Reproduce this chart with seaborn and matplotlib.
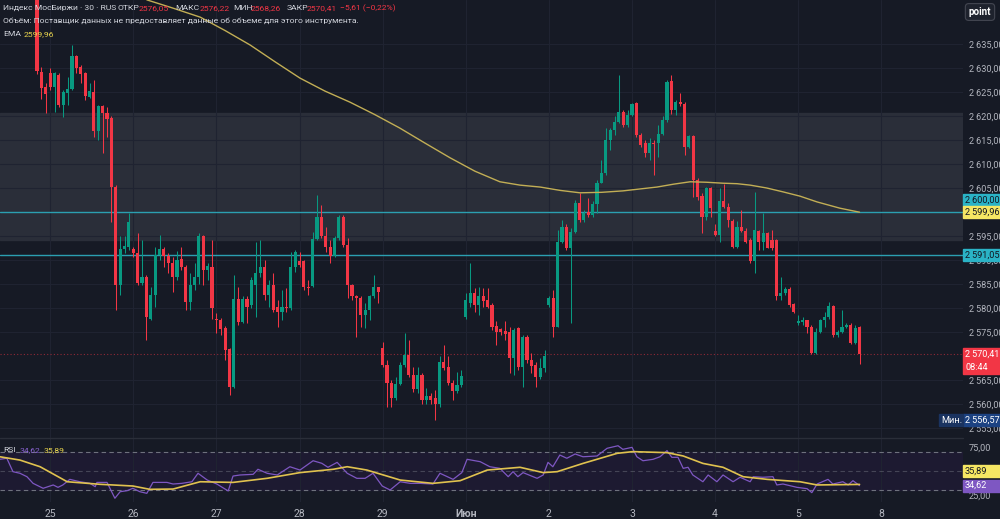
import numpy as np
import pandas as pd
import seaborn as sns
import matplotlib.pyplot as plt
from matplotlib.patches import Rectangle

# ---- data (30 min candles, index 0 = first visible candle) ----
opens = [2645.0, 2629.1, 2626.1, 2628.9, 2626.1, 2628.5, 2622.3, 2624.7, 2625.6, 2632.5,
         2630.3, 2628.9, 2624.0, 2625.1, 2616.9, 2622.1, 2620.7, 2619.5, 2605.3, 2584.8,
         2592.2, 2592.8, 2592.2, 2591.5, 2585.3, 2586.5, 2577.8, 2582.7, 2591.0, 2592.2,
         2590.8, 2589.3, 2586.5, 2590.2, 2588.6, 2581.3, 2584.7, 2586.5, 2594.9, 2588.0,
         2588.6, 2577.8, 2577.4, 2575.8, 2571.4, 2563.6, 2581.8, 2577.0, 2581.8, 2580.6,
         2584.8, 2587.2, 2588.6, 2582.7, 2584.8, 2580.3, 2579.2, 2580.3, 2579.9, 2588.5,
         2589.8, 2589.7, 2584.4, 2584.6, 2594.3, 2598.9, 2594.9, 2592.8, 2590.8, 2594.5,
         2599.0, 2593.1, 2584.8, 2582.4, 2582.0, 2578.5, 2579.6, 2582.4, 2584.3, 2571.6,
         2568.1, 2564.3, 2561.2, 2564.2, 2568.1, 2570.2, 2566.0, 2563.1, 2566.0, 2560.8,
         2561.7, 2561.2, 2560.0, 2568.8, 2567.8, 2564.4, 2562.8, 2564.0, 2578.2, 2581.0,
         2583.1, 2580.6, 2582.4, 2581.7, 2580.6, 2576.3, 2575.6, 2575.3, 2575.1, 2569.5,
         2575.8, 2567.8, 2574.0, 2569.2, 2568.1, 2565.7, 2567.4, 2580.6, 2582.0, 2576.1,
         2593.8, 2596.9, 2592.4, 2595.9, 2601.8, 2598.3, 2600.1, 2599.4, 2601.7, 2606.1,
         2608.2, 2615.0, 2617.0, 2618.8, 2620.9, 2618.1, 2620.2, 2622.8, 2616.0, 2614.4,
         2612.2, 2614.4, 2614.3, 2616.3, 2619.2, 2627.2, 2621.2, 2623.0, 2622.6, 2613.5,
         2615.8, 2606.7, 2603.3, 2599.0, 2604.9, 2596.1, 2595.2, 2602.2, 2601.1, 2598.2,
         2592.8, 2596.9, 2596.1, 2594.2, 2589.7, 2596.1, 2593.8, 2595.7, 2594.2, 2594.2,
         2582.5, 2583.2, 2583.9, 2580.8, 2576.8, 2577.0, 2577.4, 2576.1, 2570.7, 2575.1,
         2577.5, 2578.1, 2580.4, 2574.4, 2575.1, 2576.1, 2576.5, 2572.8, 2576.05]
closes = [2629.4, 2625.9, 2624.6, 2626.1, 2628.9, 2622.3, 2625.1, 2625.6, 2632.4, 2630.1,
          2628.7, 2624.2, 2625.3, 2616.9, 2622.1, 2620.6, 2619.4, 2605.3, 2584.8, 2592.2,
          2592.9, 2598.0, 2591.4, 2585.3, 2586.5, 2578.1, 2582.7, 2591.0, 2592.2, 2590.8,
          2589.3, 2586.5, 2590.0, 2588.6, 2581.3, 2584.7, 2586.5, 2595.0, 2588.0, 2588.7,
          2579.9, 2577.4, 2575.6, 2571.3, 2563.6, 2581.8, 2577.0, 2581.8, 2580.3, 2585.8,
          2587.2, 2588.5, 2582.7, 2584.8, 2579.6, 2579.2, 2580.3, 2579.9, 2588.5, 2591.7,
          2589.0, 2584.3, 2584.1, 2594.3, 2598.9, 2594.9, 2592.8, 2590.8, 2594.5, 2599.0,
          2593.1, 2584.8, 2582.4, 2582.0, 2578.5, 2579.6, 2582.4, 2584.3, 2583.4, 2568.1,
          2564.3, 2561.2, 2564.2, 2568.1, 2570.2, 2566.0, 2563.1, 2566.0, 2560.8, 2561.7,
          2560.8, 2560.0, 2568.8, 2567.4, 2564.4, 2562.8, 2564.0, 2565.8, 2581.7, 2583.1,
          2580.6, 2582.5, 2581.5, 2580.3, 2576.1, 2575.1, 2575.1, 2574.6, 2569.5, 2575.4,
          2567.8, 2574.0, 2569.2, 2567.9, 2565.7, 2567.4, 2570.0, 2582.0, 2576.1, 2593.8,
          2596.9, 2592.4, 2595.9, 2601.8, 2598.3, 2599.7, 2599.4, 2601.7, 2606.1, 2608.2,
          2615.0, 2617.1, 2618.8, 2620.9, 2618.1, 2620.2, 2622.6, 2616.0, 2614.0, 2612.2,
          2614.4, 2614.2, 2616.3, 2619.2, 2627.0, 2621.2, 2623.0, 2622.6, 2613.5, 2615.8,
          2606.7, 2603.2, 2599.0, 2604.9, 2600.8, 2595.2, 2602.2, 2601.1, 2598.3, 2592.8,
          2596.9, 2596.1, 2593.8, 2589.7, 2596.2, 2593.8, 2595.7, 2592.6, 2592.4, 2582.5,
          2583.2, 2583.9, 2580.6, 2579.2, 2577.2, 2577.4, 2576.0, 2570.7, 2575.1, 2577.5,
          2578.1, 2580.4, 2574.4, 2575.1, 2576.1, 2576.5, 2572.8, 2575.8, 2570.41]
highs = [2646.0, 2630.3, 2626.8, 2629.9, 2629.2, 2628.9, 2625.4, 2628.2, 2634.8, 2632.7,
         2630.6, 2629.2, 2626.8, 2627.5, 2622.3, 2622.3, 2621.9, 2619.9, 2605.6, 2594.9,
         2594.9, 2599.7, 2592.8, 2595.6, 2594.2, 2586.9, 2584.4, 2592.8, 2595.2, 2592.8,
         2591.4, 2590.7, 2591.8, 2592.8, 2589.0, 2587.2, 2589.3, 2595.6, 2595.2, 2589.3,
         2594.2, 2578.9, 2577.9, 2576.2, 2571.6, 2586.9, 2584.4, 2582.4, 2582.4, 2586.5,
         2593.8, 2594.2, 2590.0, 2585.8, 2587.2, 2581.7, 2583.8, 2584.1, 2591.7, 2592.1,
         2591.7, 2590.0, 2585.8, 2595.9, 2603.5, 2601.5, 2596.9, 2594.2, 2594.9, 2599.4,
         2599.4, 2594.5, 2585.1, 2582.7, 2582.4, 2581.0, 2582.7, 2586.9, 2584.4, 2573.0,
         2569.2, 2565.0, 2565.7, 2568.8, 2574.7, 2573.4, 2567.8, 2567.8, 2566.4, 2563.3,
         2562.2, 2562.9, 2569.9, 2572.3, 2569.9, 2565.0, 2566.7, 2567.0, 2583.1, 2589.3,
         2584.1, 2584.4, 2584.1, 2584.1, 2581.0, 2577.2, 2575.8, 2577.2, 2576.1, 2575.8,
         2576.1, 2574.4, 2574.4, 2570.6, 2568.8, 2569.5, 2571.3, 2582.5, 2583.8, 2596.3,
         2598.3, 2597.6, 2596.6, 2602.5, 2603.9, 2600.4, 2602.9, 2602.2, 2606.7, 2610.8,
         2617.4, 2617.4, 2619.9, 2628.5, 2621.2, 2621.2, 2622.8, 2623.0, 2616.4, 2615.0,
         2615.4, 2615.0, 2618.1, 2619.9, 2627.5, 2628.5, 2623.3, 2624.7, 2623.0, 2616.0,
         2616.0, 2607.0, 2603.9, 2605.3, 2605.3, 2597.6, 2604.9, 2605.9, 2601.8, 2598.5,
         2598.2, 2600.4, 2596.6, 2594.5, 2604.2, 2596.2, 2599.7, 2595.9, 2596.2, 2594.3,
         2586.5, 2584.4, 2584.4, 2581.0, 2578.5, 2578.2, 2577.6, 2576.5, 2575.8, 2577.8,
         2579.2, 2581.3, 2580.6, 2575.4, 2579.6, 2576.8, 2576.8, 2576.5, 2576.22]
lows = [2628.8, 2623.5, 2620.6, 2625.4, 2620.9, 2621.9, 2619.7, 2622.3, 2625.4, 2628.9,
        2626.8, 2623.3, 2623.7, 2615.7, 2615.0, 2612.2, 2615.7, 2598.0, 2579.6, 2582.7,
        2591.4, 2592.1, 2590.7, 2584.8, 2584.8, 2573.3, 2577.5, 2580.3, 2590.0, 2588.6,
        2587.2, 2583.4, 2585.8, 2587.9, 2579.6, 2579.6, 2583.7, 2585.1, 2584.8, 2585.8,
        2577.8, 2574.7, 2574.4, 2569.2, 2561.9, 2563.3, 2576.5, 2576.8, 2576.8, 2579.9,
        2578.2, 2586.5, 2581.7, 2580.3, 2579.2, 2576.1, 2577.5, 2579.2, 2579.6, 2587.6,
        2588.6, 2583.8, 2582.7, 2584.4, 2594.2, 2594.5, 2591.7, 2589.3, 2590.7, 2594.2,
        2592.8, 2582.0, 2581.7, 2574.0, 2576.1, 2575.8, 2577.5, 2582.0, 2581.0, 2567.8,
        2559.4, 2559.4, 2560.8, 2564.0, 2567.8, 2565.7, 2562.6, 2562.2, 2560.1, 2560.0,
        2560.1, 2556.57, 2559.4, 2567.1, 2564.0, 2560.8, 2562.2, 2563.6, 2577.8, 2580.3,
        2579.2, 2578.5, 2580.3, 2579.9, 2575.4, 2572.3, 2574.4, 2573.3, 2566.4, 2566.0,
        2567.1, 2563.6, 2568.5, 2566.4, 2563.6, 2565.3, 2566.7, 2580.3, 2574.0, 2576.1,
        2593.5, 2592.1, 2576.8, 2595.6, 2598.0, 2598.0, 2599.0, 2599.0, 2599.7, 2606.0,
        2607.7, 2612.9, 2616.0, 2618.5, 2617.8, 2617.8, 2619.9, 2615.7, 2613.6, 2611.5,
        2610.8, 2607.7, 2611.5, 2616.0, 2618.8, 2620.5, 2620.2, 2622.0, 2611.9, 2613.3,
        2603.2, 2602.5, 2595.6, 2598.3, 2599.0, 2594.9, 2593.8, 2600.8, 2596.9, 2592.4,
        2592.4, 2595.9, 2593.5, 2589.3, 2587.2, 2592.1, 2592.1, 2592.4, 2592.1, 2581.7,
        2581.7, 2582.7, 2580.3, 2578.9, 2576.5, 2576.5, 2574.7, 2570.5, 2570.5, 2574.7,
        2576.1, 2577.8, 2574.0, 2574.0, 2574.7, 2575.8, 2572.6, 2572.6, 2568.26]

# EMA line (candle index, value)
ema_idx = [25.1, 31.0, 37.3, 43.0, 48.7, 54.4, 60.1, 65.8, 71.5, 77.2, 82.9, 88.6, 94.4,
           100.1, 105.8, 110.4, 115.0, 119.6, 124.1, 129.0, 133.9, 137.8, 141.7, 145.5,
           149.3, 153.0, 156.8, 160.0, 163.0, 166.8, 170.5, 174.4, 178.3, 183.5, 188.0]
ema_val = [2644.2, 2642.5, 2640.6, 2637.8, 2634.8, 2631.3, 2627.9, 2625.2, 2622.9, 2620.3,
           2617.5, 2614.4, 2611.3, 2608.5, 2606.3, 2605.6, 2605.2, 2604.5, 2604.0, 2604.1,
           2604.4, 2604.8, 2605.2, 2605.8, 2606.3, 2606.2, 2606.0, 2605.9, 2605.6, 2605.0,
           2604.2, 2603.3, 2602.1, 2600.8, 2599.96]

# RSI and its moving average
rsi_idx = [-8.5, -6.9, -5.5, -3.9, -2.3, -0.9, 1.4, 3.7, 4.8, 5.9, 7.5, 9.8, 12.1, 13.3, 13.7,
           16.0, 17.8, 19.0, 20.6, 21.9, 23.5, 25.1, 26.5, 29.7, 31.1, 33.1, 35.4, 36.8, 38.9,
           41.1, 43.7, 44.8, 46.4, 49.4, 50.5, 52.6, 54.9, 57.8, 60.1, 63.1, 65.1, 66.5, 68.6,
           70.9, 73.1, 75.0, 76.8, 78.9, 80.7, 83.0, 85.3, 87.5, 90.5, 92.1, 95.1, 97.1, 98.3,
           101.3, 103.5, 105.8, 107.7, 108.8, 109.9, 111.1, 114.3, 115.7, 116.8, 117.9, 119.5,
           121.1, 123.0, 124.8, 128.0, 130.3, 132.8, 133.9, 136.0, 137.1, 138.5, 140.8, 142.4,
           144.0, 145.1, 146.5, 147.7, 148.8, 149.9, 152.2, 153.4, 155.4, 156.8, 159.1, 160.7,
           163.0, 163.7, 165.9, 168.2, 169.1, 170.5, 173.7, 176.0, 177.1, 178.3, 180.8, 181.9,
           184.2, 185.4, 186.5, 188.0]
rsi_val = [62.3, 63.4, 49.3, 47.6, 44.0, 37.0, 31.8, 35.3, 32.8, 35.3, 41.2, 38.7, 37.0, 33.5,
           38.0, 38.0, 21.3, 28.2, 29.3, 31.8, 28.2, 26.5, 38.0, 38.0, 36.3, 37.0, 38.7, 47.6,
           40.5, 36.3, 29.0, 44.7, 45.8, 46.5, 51.8, 47.6, 45.8, 54.5, 51.0, 60.8, 58.1, 53.9,
           59.1, 47.6, 42.3, 42.3, 47.6, 34.2, 30.0, 38.7, 37.0, 37.0, 36.3, 47.6, 41.2, 48.3,
           62.3, 59.8, 54.5, 52.8, 44.0, 49.3, 44.0, 48.3, 42.3, 45.8, 59.1, 54.5, 66.8, 63.4,
           67.9, 65.0, 65.8, 73.9, 76.6, 72.8, 74.9, 65.0, 60.8, 62.3, 65.0, 71.4, 64.4, 64.4,
           52.8, 53.9, 45.8, 38.7, 45.8, 38.7, 45.8, 38.7, 43.4, 38.7, 44.0, 43.4, 44.0, 35.3,
           36.3, 32.8, 31.4, 27.2, 36.3, 41.2, 36.3, 38.7, 35.3, 39.8, 34.62]
rsi_ma_idx = [-8.5, -3.9, 0.7, 6.9, 14.4, 21.9, 25.8, 31.1, 37.3, 44.8, 52.6, 60.1, 67.7,
              70.9, 75.4, 83.0, 90.5, 96.7, 102.9, 110.4, 115.7, 118.9, 124.8, 132.6, 136.2,
              144.0, 147.7, 152.2, 156.8, 161.4, 166.9, 174.4, 178.3, 188.0]
rsi_ma_val = [65.0, 61.5, 54.5, 38.7, 36.0, 34.2, 30.7, 31.0, 38.7, 38.0, 42.3, 48.3, 51.8,
              54.5, 51.0, 40.5, 37.0, 39.8, 51.0, 53.9, 48.3, 49.3, 58.0, 68.6, 70.4, 69.3,
              65.8, 58.0, 53.9, 44.0, 41.2, 38.7, 35.3, 35.89]

day_ticks = [3, 22, 41, 60, 79, 98, 117, 136, 155, 174, 193]
day_labels = ["25", "26", "27", "28", "29", "Июн", "2", "3", "4", "5", "8"]
price_ticks = [2555, 2560, 2565, 2575, 2580, 2585, 2590, 2595, 2605, 2610, 2615, 2620,
               2625, 2630, 2635]

zone_low, zone_high = 2594.2, 2620.6
level_a, level_b = 2600.00, 2591.05
ema_last = 2599.96
price_min = 2556.57

BG = "#161a25"
GRID = "#1f2331"
TXT = "#b2b5be"
UP, DOWN = "#089981", "#f23645"

sns.set_theme(style="dark", rc={"axes.facecolor": BG, "figure.facecolor": BG,
                                "axes.edgecolor": BG, "text.color": TXT})
plt.rcParams["font.family"] = ["Roboto", "DejaVu Sans"]


def fmt(v):
    return f"{v:,.2f}".replace(",", "\u2009").replace(".", ",")


W, H = 1000, 519
fig = plt.figure(figsize=(W / 100, H / 100), dpi=100)
ax = fig.add_axes([0, 1 - 437 / H, 963 / W, 437 / H])
ax_rsi = fig.add_axes([0, 1 - 502 / H, 963 / W, 65 / H])

df = pd.DataFrame({"open": opens, "high": highs, "low": lows, "close": closes})
df["i"] = np.arange(len(df))
colors = np.where(df["close"] >= df["open"], UP, DOWN)

xlim = (-8.46, 211.65)

# main pane
ax.axhspan(zone_low, zone_high, color="#2a2e39", zorder=0)
ax.vlines(df["i"], df["low"], df["high"], colors=colors, linewidth=0.75, zorder=3)
body = np.maximum((df["close"] - df["open"]).abs(), 0.15)
ax.bar(df["i"], body, bottom=np.minimum(df["open"], df["close"]), width=0.7,
       color=colors, linewidth=0, zorder=4)
sns.lineplot(x=ema_idx, y=ema_val, ax=ax, color="#c2ae55", linewidth=1.0, zorder=5)
ax.axhline(level_a, color="#2b9fb1", linewidth=1.0, zorder=2)
ax.axhline(level_b, color="#2b9fb1", linewidth=1.0, zorder=2)
ax.axhline(closes[-1], color=DOWN, linewidth=0.8, linestyle=(0, (1, 2)), alpha=0.55, zorder=2)

ax.set_xlim(*xlim)
ax.set_ylim(2553.125, 2644.17)
ax.set_xticks(day_ticks)
ax.set_xticklabels([])
ax.set_yticks(price_ticks)
ax.yaxis.tick_right()
ax.set_yticklabels([fmt(v) for v in price_ticks])
ax.tick_params(axis="y", length=0, pad=4, labelsize=6.6, labelcolor=TXT)
ax.tick_params(axis="x", length=0)
ax.grid(True, color=GRID, linewidth=0.8)
ax.set_axisbelow(True)
ax.set_xlabel("")
ax.set_ylabel("")

# rsi pane
ax_rsi.axhspan(30, 70, color="#1d1a31", zorder=0)
for lvl, a in [(70, 0.9), (50, 0.45), (30, 0.9)]:
    ax_rsi.axhline(lvl, color="#787b86", linewidth=0.8, linestyle=(0, (4, 3)), alpha=a, zorder=1)
sns.lineplot(x=rsi_idx, y=rsi_val, ax=ax_rsi, color="#7e57c2", linewidth=0.9, zorder=3)
sns.lineplot(x=rsi_ma_idx, y=rsi_ma_val, ax=ax_rsi, color="#e0c24f", linewidth=1.2, zorder=4)
ax_rsi.set_xlim(*xlim)
ax_rsi.set_ylim(17.37, 85.79)
ax_rsi.set_xticks(day_ticks)
ax_rsi.set_xticklabels(day_labels)
for t in ax_rsi.get_xticklabels():
    if t.get_text() == "Июн":
        t.set_fontweight("bold")
ax_rsi.set_yticks([25, 75])
ax_rsi.yaxis.tick_right()
ax_rsi.set_yticklabels(["25,00", "75,00"])
ax_rsi.tick_params(axis="y", length=0, pad=4, labelsize=6.6, labelcolor=TXT)
ax_rsi.tick_params(axis="x", length=0, pad=5, labelsize=7.5, labelcolor=TXT)
ax_rsi.grid(True, axis="x", color=GRID, linewidth=0.8)
ax_rsi.grid(False, axis="y")
ax_rsi.set_xlabel("")
ax_rsi.set_ylabel("")
for a in (ax, ax_rsi):
    for s in a.spines.values():
        s.set_visible(False)

fig.add_artist(plt.Line2D([0, 963 / W], [1 - 437.5 / H] * 2, color="#2a2e39", linewidth=1))


def px_text(x, y, s, color, size=6.1, **kw):
    fig.text(x / W, 1 - y / H, s, color=color, fontsize=size, va="center", ha="left", **kw)


def tag(axis, value, lines, bg, fg, dy=0, x0=963, x1=1000, h=12):
    yc = axis.transData.transform((0, value))[1] + dy
    n = len(lines)
    fig.add_artist(Rectangle((x0 / W, (yc - h / 2 - (n - 1) * h) / H), (x1 - x0) / W,
                             (h * n) / H, transform=fig.transFigure, color=bg, zorder=10))
    for k, s in enumerate(lines):
        fig.text((x0 + 2) / W, (yc - k * h) / H, s, color=fg, fontsize=6.6,
                 va="center", ha="left", zorder=11)


# header legend
HEAD = "#d1d4dc"
px_text(3, 8, "Индекс МосБиржи · 30 · RUS", HEAD)
px_text(118, 8, "ОТКР", HEAD)
px_text(139, 8, "2576,05", DOWN)
px_text(175, 8, "МАКС", HEAD)
px_text(200, 8, "2576,22", DOWN)
px_text(233, 8, "МИН", HEAD)
px_text(251, 8, "2568,26", DOWN)
px_text(287, 8, "ЗАКР", HEAD)
px_text(307, 8, "2570,41", DOWN)
px_text(340, 8, "\u22125,61 (\u22120,22%)", DOWN)
px_text(3, 21, "Объём: Поставщик данных не предоставляет данные об объеме для этого инструмента.", HEAD)
px_text(3, 34, "EMA", HEAD)
px_text(24, 34, "2599,96", "#e8d44d")
px_text(3, 450, "RSI", HEAD)
px_text(20, 450, "34,62", "#8a63d2")
px_text(44, 450, "35,89", "#e8d44d")

# price tags on the right scale
tag(ax, level_a, [fmt(level_a)], "#2ab3c6", "#131722", dy=12)
tag(ax, ema_last, [fmt(ema_last)], "#f5e663", "#131722")
tag(ax, level_b, [fmt(level_b)], "#2ab3c6", "#131722")
tag(ax, closes[-1], [fmt(closes[-1]), "08:44"], DOWN, "white", h=13)
tag(ax, price_min, [fmt(price_min)], "#1c4282", "white")
tag(ax, price_min, ["Мин."], "#1a3360", "white", x0=939, x1=963)
tag(ax_rsi, rsi_ma_val[-1], ["35,89"], "#f5e663", "#131722", dy=13)
tag(ax_rsi, rsi_val[-1], ["34,62"], "#7e57c2", "white")

fig.text(980 / W, 1 - 12 / H, "point", color="white", fontsize=7, ha="center", va="center",
         fontweight="bold",
         bbox=dict(boxstyle="round,pad=0.35", fc="#1e222d", ec="#434651", lw=0.8))

fig.savefig("out.png", dpi=100, facecolor=BG)
